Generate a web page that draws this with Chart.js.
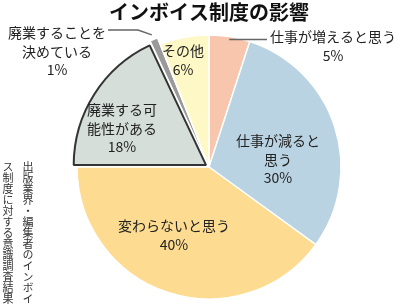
<!DOCTYPE html>
<html>
<head>
<meta charset="utf-8">
<script src="https://cdn.jsdelivr.net/npm/chart.js@4.4.0/dist/chart.umd.min.js"></script>
<style>
  body { margin: 0; background: #fff; }
  #wrap { position: relative; width: 400px; height: 304px; overflow: hidden; }
  #c { position: absolute; left: 0; top: 0; }
  #note {
    position: absolute; left: -2px; top: 161px; width: 40px; height: 145px;
    writing-mode: vertical-rl; font-family: "Noto Sans CJK JP", sans-serif;
    font-size: 11px; line-height: 20px; color: #333;
  }
</style>
</head>
<body>
<div id="wrap">
  <canvas id="c" width="400" height="304"></canvas>
  <div id="note">出版業界・編集者のインボイス制度に対する意識調査結果</div>
</div>
<script>
const categories = ['仕事が増えると思う', '仕事が減ると思う', '変わらないと思う', '廃業する可能性がある', '廃業することを決めている', 'その他'];
const values = [5, 30, 40, 18, 1, 6];
const labelLines = [['仕事が増えると思う'], ['仕事が減ると', '思う'], ['変わらないと思う'], ['廃業する可', '能性がある'], ['廃業することを', '決めている'], ['その他']];

const colors = ['#f8c5ad', '#b9d3e2', '#fddc91', '#d5ded8', '#9a9a9a', '#fdf8c6'];
const borders = ['#fff', '#fff', '#fff', '#333', '#fff', '#fff'];
const borderW = [1.5, 1.5, 1.5, 2, 1, 1.5];
const offsets = [0, 0, 0, 14, 14, 0];
// where each label's first line is centred
const labelAt = [[333, 37], [278, 141], [174, 226], [122, 110], [57, 33], [183, 51]];

const font = '"Noto Sans CJK JP", "Noto Sans", sans-serif';

function edgePoint(arc, extra) {
  const mid = (arc.startAngle + arc.endAngle) / 2;
  const r = arc.outerRadius + (arc.options.offset || 0) + extra;
  return [arc.x + Math.cos(mid) * r, arc.y + Math.sin(mid) * r];
}

const labelPlugin = {
  id: 'labels',
  afterDatasetsDraw(chart) {
    const ctx = chart.ctx;
    const arcs = chart.getDatasetMeta(0).data;
    ctx.save();
    // leader lines
    ctx.strokeStyle = '#666';
    ctx.lineWidth = 1.5;
    let p = edgePoint(arcs[0], -3);
    ctx.beginPath();
    ctx.moveTo(p[0], p[1]);
    ctx.lineTo(267, p[1]);
    ctx.stroke();
    p = edgePoint(arcs[4], -2);
    ctx.beginPath();
    ctx.moveTo(p[0], p[1]);
    ctx.lineTo(138, 30);
    ctx.lineTo(108, 30);
    ctx.stroke();

    ctx.fillStyle = '#222';
    ctx.font = '14px ' + font;
    ctx.textAlign = 'center';
    ctx.textBaseline = 'middle';
    labelLines.forEach((lines, i) => {
      const [x, y] = labelAt[i];
      const all = lines.concat([values[i] + '%']);
      all.forEach((t, k) => ctx.fillText(t, x, y + k * 18.5));
    });
    ctx.restore();
  }
};

new Chart(document.getElementById('c'), {
  type: 'pie',
  data: {
    labels: categories,
    datasets: [{
      data: values,
      backgroundColor: colors,
      borderColor: borders,
      borderWidth: borderW,
      offset: offsets,
      radius: 132
    }]
  },
  options: {
    responsive: false,
    animation: false,
    devicePixelRatio: 1,
    layout: { padding: { left: 18, right: 0, top: 0, bottom: 0 } },
    plugins: {
      legend: { display: false },
      tooltip: { enabled: false },
      title: {
        display: true,
        text: 'インボイス制度の影響',
        color: '#111',
        font: { family: font, size: 20, weight: 'bold', lineHeight: 1.2 },
        padding: { top: 0, bottom: 6 }
      }
    }
  },
  plugins: [labelPlugin]
});
</script>
</body>
</html>
